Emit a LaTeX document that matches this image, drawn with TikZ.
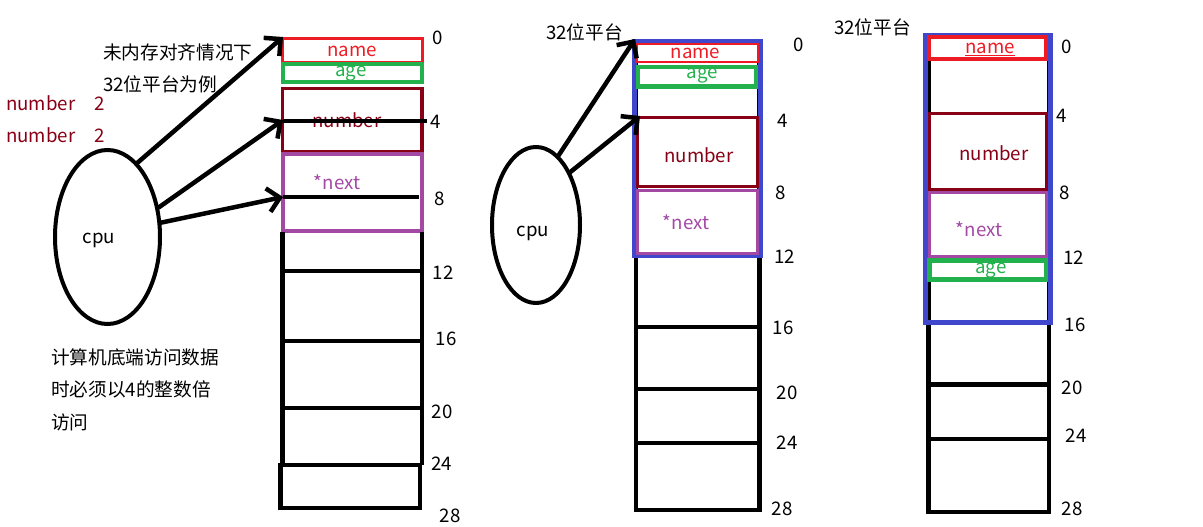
\documentclass[tikz,border=0pt]{standalone}
\usepackage{fontspec}
\setmainfont{Noto Sans CJK SC}
\usepackage{tikz}
\usetikzlibrary{arrows.meta, shapes.geometric, positioning}
\usepackage{xcolor}
\definecolor{pRed}{RGB}{237,28,36}
\definecolor{pGreen}{RGB}{34,177,76}
\definecolor{pDark}{RGB}{136,0,21}
\definecolor{pPurple}{RGB}{163,73,164}
\definecolor{pBlue}{RGB}{63,72,204}
\tikzset{
  wall/.style={line width=4.5pt},
  txt/.style={font=\fontsize{18.67}{22}\selectfont, inner sep=0pt},
  cpubody/.style={ellipse, draw, line width=4pt, inner sep=0pt},
  grab/.style={line width=4.5pt, line cap=round, -{Straight Barb[length=12pt,width=24pt]}}
}

\begin{document}
\begin{tikzpicture}[x=1pt,y=-1pt]
\clip (0,0) rectangle (1203,527);

% left column, no alignment
\draw[pRed, line width=3pt] (282.5,39) rectangle (422,63);
\draw[pGreen, line width=4pt] (282.5,64) rectangle (422,82.5);
\draw[pDark, line width=3.5pt] (282.5,88.5) rectangle (422,152);
\draw[pPurple, line width=4pt] (282.5,153.5) rectangle (422,230.5);
\draw[wall] (282.5,232) -- (282.5,465);
\draw[wall] (422,232) -- (422,465);
\foreach \y in {271,341,408} {
  \draw[wall] (282.5,\y) -- (422,\y);
}
\draw[wall] (280.5,465) rectangle (420,508);
\node[txt, text=pRed] (nameL) at (352,51) {name};
\node[txt, text=pGreen] (ageL) at (351,74) {age};
\node[txt, text=pDark] (numL) at (347,120) {number};
\node[txt, text=pPurple] (nextL) at (337,182) {*next};
\draw[wall] (283,121) -- (427,121);
\draw[wall] (283,197) -- (419,197);
\foreach \v/\x/\y in {0/438/38, 4/436/122, 8/440/199, 12/443/273, 16/446/339, 20/442/412, 24/441.5/464, 28/450/516} {
  \node[txt] (addrL\v) at (\x,\y) {\v};
}

\node[txt, anchor=west] (noteA) at (103,52) {未内存对齐情况下};
\node[txt, anchor=west] (noteB) at (103,84) {32位平台为例};
\node[txt, anchor=west, text=pDark] (sizeA) at (6,103) {number\quad 2};
\node[txt, anchor=west, text=pDark] (sizeB) at (6,135) {number\quad 2};
\node[txt, anchor=west] (ruleA) at (51,357) {计算机底端访问数据};
\node[txt, anchor=west] (ruleB) at (51,389) {时必须以4的整数倍};
\node[txt, anchor=west] (ruleC) at (51,422) {访问};

\node[cpubody, minimum width=105pt, minimum height=174pt] (cpuL) at (107.5,237) {};
\node[txt] (cpuLt) at (99,240) {cpu};
\coordinate (tipL0) at (283,37);
\coordinate (tipL4) at (283,120);
\coordinate (tipL8) at (283,197);
\draw[grab] (cpuL.68) -- (tipL0);
\draw[grab] (cpuL.30) -- (tipL4);
\draw[grab] (cpuL.15) -- (tipL8);

% middle column, aligned
\draw[wall] (636,40) -- (636,510) -- (759.5,510) -- (759.5,40);
\foreach \y in {327,389,443} {
  \draw[wall] (636,\y) -- (759.5,\y);
}
\draw[pBlue, line width=5pt] (634.5,41.5) rectangle (760.5,255.5);
\draw[pRed, line width=2pt] (637,44) rectangle (758,62);
\draw[pGreen, line width=4.5pt] (638,67) rectangle (756,86.5);
\draw[pDark, line width=3pt] (637.5,117) rectangle (757,186);
\draw[pPurple, line width=3pt] (637.5,190.5) rectangle (757,253.5);
\node[txt, text=pRed] (nameM) at (695.5,53) {name};
\node[txt, text=pGreen] (ageM) at (702.5,76) {age};
\node[txt, text=pDark] (numM) at (699,155) {number};
\node[txt, text=pPurple] (nextM) at (686,222) {*next};
\foreach \v/\x/\y in {0/799/45, 4/783/121, 8/780.5/193, 12/784.5/257, 16/783/328, 20/787/393, 24/787/443, 28/782/509} {
  \node[txt] (addrM\v) at (\x,\y) {\v};
}
\node[txt, anchor=west] (platM) at (546,32) {32位平台};

\node[cpubody, minimum width=88pt, minimum height=156pt] (cpuM) at (536,225) {};
\node[txt] (cpuMt) at (533,233) {cpu};
\coordinate (tipM0) at (635,39);
\coordinate (tipM4) at (640,116);
\draw[grab] (cpuM.72) -- (tipM0);
\draw[grab] (cpuM.57) -- (tipM4);

% right column, reordered
\draw[wall] (928.5,35) -- (928.5,512) -- (1049,512) -- (1049,35);
\foreach \y in {384.5,439} {
  \draw[wall] (928.5,\y) -- (1049,\y);
}
\draw[pBlue, line width=5pt] (925.5,35.5) rectangle (1050.5,322.5);
\draw[pRed, line width=4pt] (929,37) rectangle (1046,59.5);
\draw[pDark, line width=3pt] (929.5,113) rectangle (1046,189);
\draw[pPurple, line width=3pt] (929.5,192.5) rectangle (1046,256.5);
\draw[pGreen, line width=4.5pt] (929.5,260.5) rectangle (1046,279.5);
\node[txt, text=pRed] (nameR) at (990,49) {\underline{name}};
\node[txt, text=pDark] (numR) at (994,153) {number};
\node[txt, text=pPurple] (nextR) at (979,229) {*next};
\node[txt, text=pGreen] (ageR) at (991,271) {age};
\foreach \v/\x/\y in {0/1067/47, 4/1062/116, 8/1064.5/193, 12/1073.5/258, 16/1075/325, 20/1072/388, 24/1076/436, 28/1072/509} {
  \node[txt] (addrR\v) at (\x,\y) {\v};
}
\node[txt, anchor=west] (platR) at (834,27) {32位平台};

\end{tikzpicture}
\end{document}
